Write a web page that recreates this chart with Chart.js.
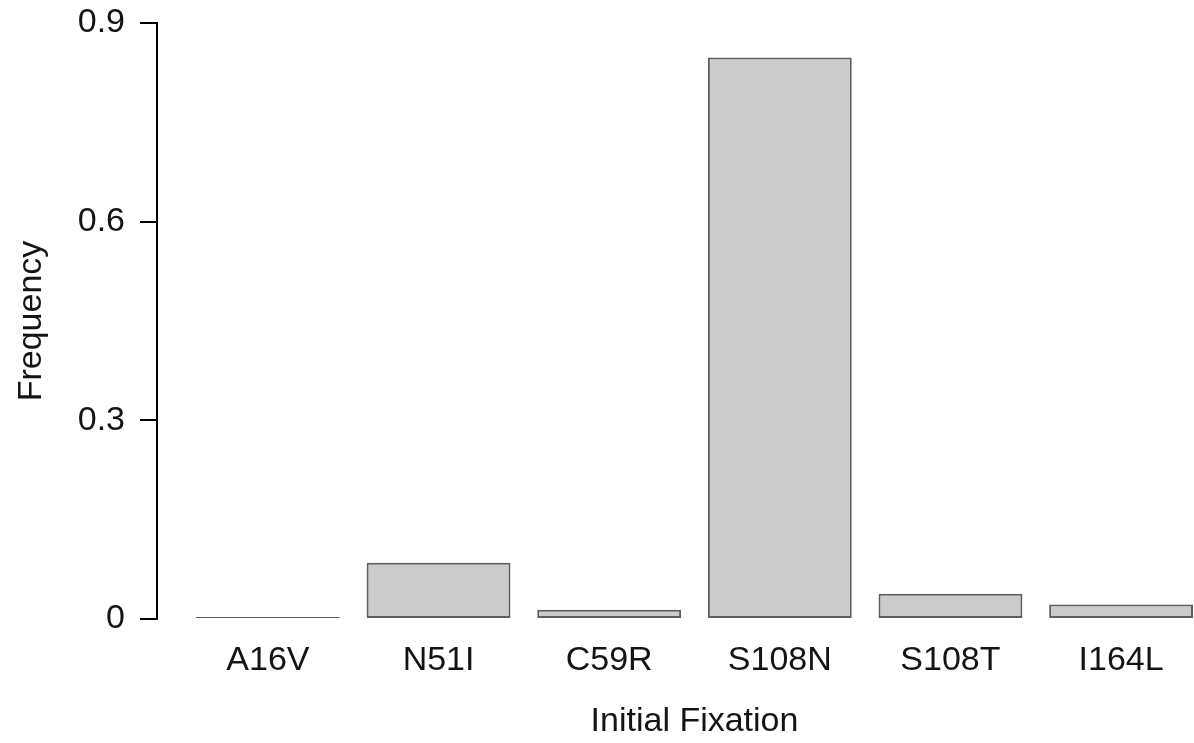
<!DOCTYPE html>
<html>
<head>
<meta charset="utf-8">
<title>Initial Fixation Frequency</title>
<script src="https://cdn.jsdelivr.net/npm/chart.js@4/dist/chart.umd.min.js"></script>
<style>
  html, body { margin: 0; padding: 0; background: #ffffff; overflow: hidden; }
  canvas { display: block; }
</style>
</head>
<body>
<canvas id="chart" width="1240" height="743"></canvas>
<script>
// Mutation categories and their initial-fixation frequencies
const categories = ['A16V', 'N51I', 'C59R', 'S108N', 'S108T', 'I164L'];
const frequency  = [0.003, 0.085, 0.014, 0.848, 0.038, 0.022];
const yTicks     = [0, 0.3, 0.6, 0.9];

const FONT = { family: '"Liberation Sans", Arial, Helvetica, sans-serif', size: 34 };
const INK = '#141414';

new Chart(document.getElementById('chart'), {
  type: 'bar',
  data: {
    datasets: [{
      data: categories.map((c, i) => ({ x: i, y: frequency[i] })),
      backgroundColor: '#cbcbcb',
      borderColor: '#5e5e5e',
      borderWidth: 2,
      borderSkipped: false,
      barPercentage: 0.843,
      categoryPercentage: 1
    }]
  },
  options: {
    responsive: false,
    animation: false,
    layout: { padding: { top: 23, right: 8, bottom: 0, left: 0 } },
    plugins: { legend: { display: false }, tooltip: { enabled: false } },
    scales: {
      x: {
        type: 'linear',
        offset: false,
        min: -0.65,
        max: 5.65,
        grid: { display: false, drawTicks: false, offset: false },
        border: { display: false },
        afterBuildTicks: s => { s.ticks = categories.map((_, i) => ({ value: i })); },
        afterFit: s => { s.height = 124; },
        ticks: {
          autoSkip: false,
          maxRotation: 0,
          padding: 21,
          color: INK,
          font: FONT,
          callback: v => categories[v] ?? ''
        },
        title: {
          display: true,
          text: 'Initial Fixation',
          color: INK,
          font: FONT,
          padding: { top: 0, bottom: 1 }
        }
      },
      y: {
        min: 0,
        max: 0.9,
        afterBuildTicks: s => { s.ticks = yTicks.map(v => ({ value: v })); },
        afterFit: s => { s.width = 157; s.paddingTop = 0; s.paddingBottom = 0; },
        grid: {
          drawOnChartArea: false,
          drawTicks: true,
          tickLength: 17,
          tickColor: '#000',
          lineWidth: 2
        },
        border: { display: true, color: '#000', width: 2 },
        ticks: {
          padding: 15,
          color: INK,
          font: FONT,
          callback: v => String(v)
        },
        title: {
          display: true,
          text: 'Frequency',
          color: INK,
          font: FONT,
          padding: { top: 11, bottom: 0 }
        }
      }
    }
  }
});
</script>
</body>
</html>
